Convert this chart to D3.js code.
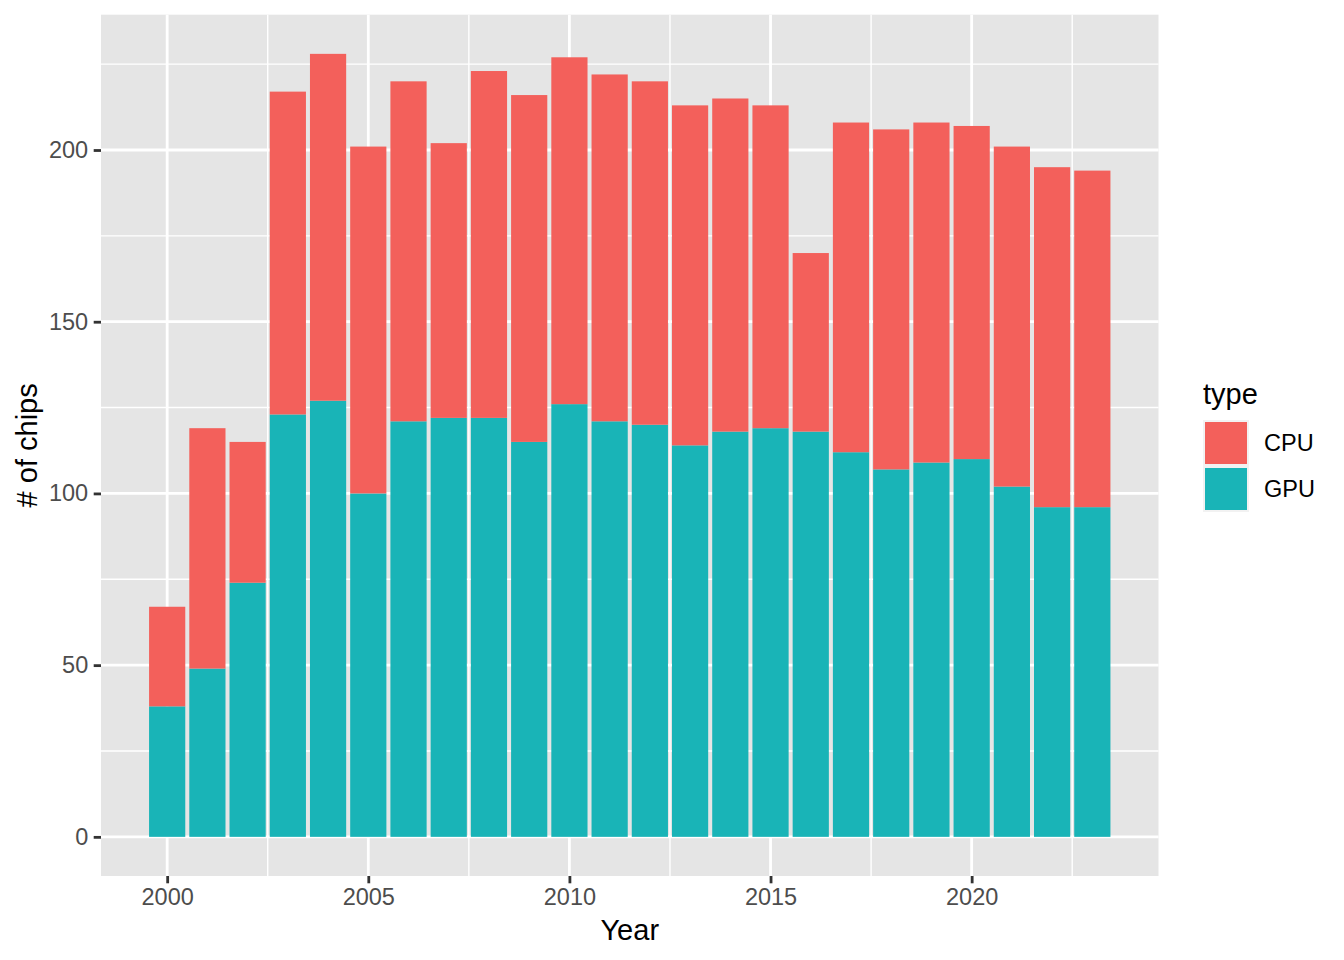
<!DOCTYPE html>
<html>
<head>
<meta charset="utf-8">
<script src="https://cdn.jsdelivr.net/npm/d3@7"></script>
<style>
  body { margin: 0; background: #fff; }
  text { font-family: "Liberation Sans", Arial, Helvetica, sans-serif; }
</style>
</head>
<body>
<div id="chart"></div>
<script>
const years = d3.range(2000, 2024)
const gpu = [38, 49, 74, 123, 127, 100, 121, 122, 122, 115, 126, 121, 120, 114, 118, 119, 118, 112, 107, 109, 110, 102, 96, 96]
const cpu = [29, 70, 41, 94, 101, 101, 99, 80, 101, 101, 101, 101, 100, 99, 97, 94, 52, 96, 99, 99, 97, 99, 99, 98]
const types = ["CPU", "GPU"]
const colors = { CPU: "#F3605B", GPU: "#19B4B7" }
const xTicks = [2000, 2005, 2010, 2015, 2020]
const yTicks = [0, 50, 100, 150, 200]

const width = 1344, height = 960
const panel = { left: 101, right: 1158.5, top: 14.7, bottom: 876 }

const rows = years.map((y, i) => ({ year: y, GPU: gpu[i], CPU: cpu[i] }))
const series = d3.stack().keys(["GPU", "CPU"])(rows)
const maxTotal = d3.max(rows, d => d.GPU + d.CPU)

// ggplot-style 5% expansion
const xLo = years[0] - 0.45, xHi = years[years.length - 1] + 0.45
const xPad = (xHi - xLo) * 0.05
const x = d3.scaleLinear().domain([xLo - xPad, xHi + xPad]).range([panel.left, panel.right])
const y = d3.scaleLinear().domain([-maxTotal * 0.05, maxTotal * 1.05]).range([panel.bottom, panel.top])

const svg = d3.select("#chart").append("svg")
  .attr("width", width).attr("height", height)

svg.append("rect")
  .attr("x", panel.left).attr("y", panel.top)
  .attr("width", panel.right - panel.left).attr("height", panel.bottom - panel.top)
  .attr("fill", "#E5E5E5")

// minor grid
const xMinor = xTicks.slice(0, -1).map(t => t + 2.5).concat([xTicks[0] - 2.5, xTicks[xTicks.length - 1] + 2.5])
  .filter(t => t > x.domain()[0] && t < x.domain()[1])
const yMinor = yTicks.map(t => t + 25).filter(t => t < y.domain()[1])
const grid = svg.append("g").attr("stroke", "#fff")
grid.selectAll(".ymin").data(yMinor).enter().append("line")
  .attr("x1", panel.left).attr("x2", panel.right)
  .attr("y1", d => y(d)).attr("y2", d => y(d)).attr("stroke-width", 1.4)
grid.selectAll(".xmin").data(xMinor).enter().append("line")
  .attr("y1", panel.top).attr("y2", panel.bottom)
  .attr("x1", d => x(d)).attr("x2", d => x(d)).attr("stroke-width", 1.4)
grid.selectAll(".ymaj").data(yTicks).enter().append("line")
  .attr("x1", panel.left).attr("x2", panel.right)
  .attr("y1", d => y(d)).attr("y2", d => y(d)).attr("stroke-width", 2.8)
grid.selectAll(".xmaj").data(xTicks).enter().append("line")
  .attr("y1", panel.top).attr("y2", panel.bottom)
  .attr("x1", d => x(d)).attr("x2", d => x(d)).attr("stroke-width", 2.8)

// bars
svg.append("g").selectAll("g").data(series).enter().append("g")
  .attr("fill", s => colors[s.key])
  .selectAll("rect").data(s => s).enter().append("rect")
  .attr("x", d => x(d.data.year - 0.45))
  .attr("width", d => x(d.data.year + 0.45) - x(d.data.year - 0.45))
  .attr("y", d => y(d[1]))
  .attr("height", d => y(d[0]) - y(d[1]))

// axes
const xAxis = d3.axisBottom(x).tickValues(xTicks).tickFormat(d3.format("d")).tickSize(7.3).tickPadding(5.5)
const yAxis = d3.axisLeft(y).tickValues(yTicks).tickSize(7.3).tickPadding(5.5)

const gx = svg.append("g").attr("transform", `translate(0,${panel.bottom})`).call(xAxis)
const gy = svg.append("g").attr("transform", `translate(${panel.left},0)`).call(yAxis)
for (const g of [gx, gy]) {
  g.select(".domain").remove()
  g.selectAll(".tick line").attr("stroke", "#333").attr("stroke-width", 2.8)
  g.selectAll(".tick text").attr("fill", "#4D4D4D").style("font-size", "23.5px")
}

svg.append("text")
  .attr("x", (panel.left + panel.right) / 2).attr("y", 940)
  .attr("text-anchor", "middle").style("font-size", "29px").attr("fill", "#000")
  .text("Year")

svg.append("text")
  .attr("transform", `translate(37,${(panel.top + panel.bottom) / 2}) rotate(-90)`)
  .attr("text-anchor", "middle").style("font-size", "29px").attr("fill", "#000")
  .text("# of chips")

// legend
const legend = svg.append("g").attr("transform", "translate(1203,0)")
legend.append("text").attr("x", 0).attr("y", 404)
  .style("font-size", "29px").attr("fill", "#000").text("type")
const keys = legend.selectAll(".key").data(types).enter().append("g")
  .attr("transform", (d, i) => `translate(0,${420 + i * 46})`)
keys.append("rect").attr("width", 46).attr("height", 46).attr("fill", "#F2F2F2")
keys.append("rect").attr("x", 2).attr("y", 2).attr("width", 42).attr("height", 42)
  .attr("fill", d => colors[d])
keys.append("text").attr("x", 61).attr("y", 23).attr("dy", "0.35em")
  .style("font-size", "23.5px").attr("fill", "#000").text(d => d)
</script>
</body>
</html>
